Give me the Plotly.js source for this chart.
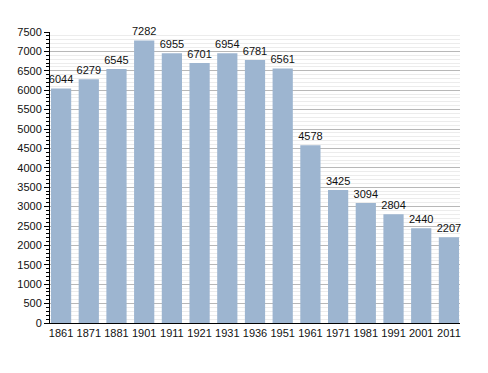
<!DOCTYPE html>
<html>
<head>
<meta charset="utf-8">
<script src="https://cdn.plot.ly/plotly-3.0.1.min.js"></script>
<style>html,body{margin:0;padding:0;background:#fff;}#chart{width:488px;height:373px;}</style>
</head>
<body>
<div id="chart"></div>
<script>
const years = ["1861","1871","1881","1901","1911","1921","1931","1936","1951","1961","1971","1981","1991","2001","2011"];
const population = [6044,6279,6545,7282,6955,6701,6954,6781,6561,4578,3425,3094,2804,2440,2207];

const trace = {
  type: 'bar',
  x: years,
  y: population,
  text: population.map(String),
  textposition: 'outside',
  constraintext: 'none',
  cliponaxis: false,
  textfont: {family: 'Liberation Sans, Arial, sans-serif', size: 11, color: '#111'},
  marker: {color: '#9db5d0', line: {width: 0}},
  hoverinfo: 'none'
};

const layout = {
  width: 488, height: 373,
  margin: {l: 50, r: 28, t: 32, b: 50},
  paper_bgcolor: '#fff', plot_bgcolor: '#fff',
  showlegend: false,
  bargap: 0.27,
  font: {family: 'Liberation Sans, Arial, sans-serif', size: 11, color: '#111'},
  xaxis: {
    type: 'category',
    range: [-0.4, 14.4],
    showline: true, linecolor: '#000', linewidth: 1,
    ticks: '', showgrid: false,
    tickfont: {size: 11, color: '#111'}
  },
  yaxis: {
    range: [0, 7500],
    dtick: 500, tick0: 0,
    ticks: 'outside', ticklen: 5, tickcolor: '#000', tickwidth: 1,
    showline: true, linecolor: '#000', linewidth: 1,
    showgrid: true, gridcolor: '#b8b8b8', gridwidth: 1,
    zeroline: false,
    minor: {dtick: 100, ticks: 'outside', ticklen: 3, tickcolor: '#000', showgrid: true, gridcolor: '#ececec', gridwidth: 1},
    tickfont: {size: 11, color: '#111'}
  }
};

Plotly.newPlot('chart', [trace], layout, {displayModeBar: false, staticPlot: true});
</script>
</body>
</html>
